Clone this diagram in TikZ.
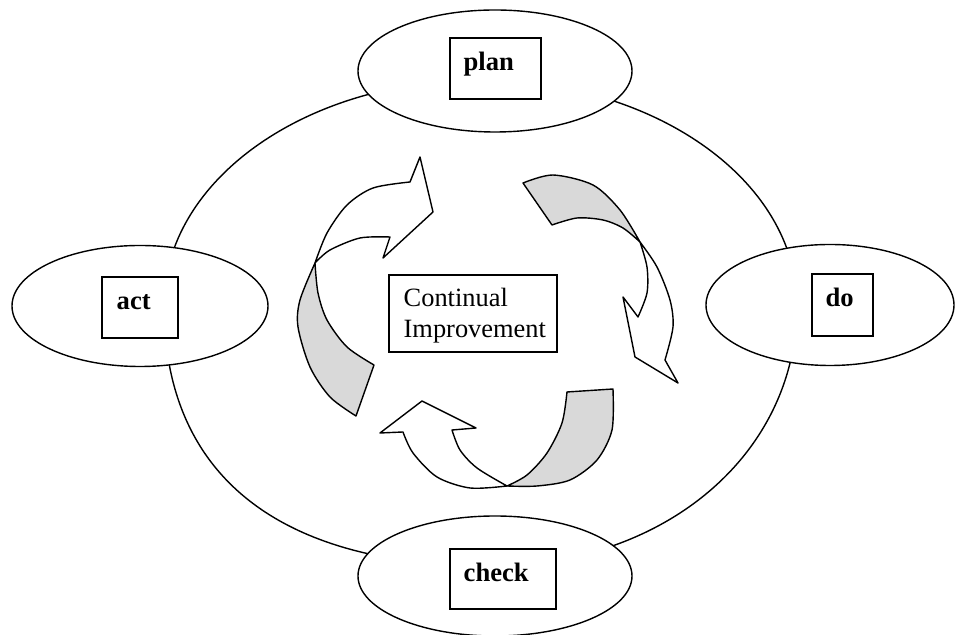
\documentclass[tikz,border=0pt]{standalone}
\usepackage{fontspec}
\setmainfont{Liberation Serif}
\usetikzlibrary{shapes.geometric}
\begin{document}
\begin{tikzpicture}[x=0.5pt,y=-0.5pt,
  line width=0.7pt,
  oval/.style={ellipse, draw, fill=white, inner sep=0pt},
  tbox/.style={draw, fill=white, inner sep=0pt},
  lbl/.style={inner sep=0pt, anchor=base west, font=\fontsize{13.3}{16}\selectfont\bfseries},
  ctext/.style={inner sep=0pt, anchor=base west, font=\fontsize{13.2}{16}\selectfont},
  band/.style={draw, line join=round},
  back/.style={band, fill=gray!30},
  front/.style={band, fill=white}]
\useasboundingbox (0,0) rectangle (955,635);

% big cycle outline
\coordinate (oL) at (164,305);
\coordinate (oT) at (480,80);
\coordinate (oR) at (797,305);
\coordinate (oB) at (490,566);
\draw (oL) .. controls (164,181) and (305,80) .. (oT)
      .. controls (655,80) and (797,181) .. (oR)
      .. controls (797,454) and (665,566) .. (oB)
      .. controls (278,566) and (164,475) .. (oL) -- cycle;

% stage ellipses
\node[oval, minimum width=137pt, minimum height=61pt] (plan) at (495,71) {};
\node[oval, minimum width=128pt, minimum height=60.5pt] (act) at (140,306) {};
\node[oval, minimum width=124pt, minimum height=60.5pt] (do) at (830,305) {};
\node[oval, minimum width=137pt, minimum height=60pt] (check) at (495,576) {};

% text boxes
\node[tbox, minimum width=45.5pt, minimum height=30.5pt] (planbox) at (495.5,68.5) {};
\node[tbox, minimum width=38pt, minimum height=30.5pt] (actbox) at (140,307.5) {};
\node[tbox, minimum width=30.5pt, minimum height=31pt] (dobox) at (842.5,305) {};
\node[tbox, minimum width=53pt, minimum height=30pt] (checkbox) at (503,579) {};
\node[tbox, minimum width=84pt, minimum height=38.5pt] (contbox) at (473,313.5) {};

\node[lbl] (plantxt) at (463,71) {plan};
\node[lbl] (acttxt) at (116,310) {act};
\node[lbl] (dotxt) at (825,307) {do};
\node[lbl] (checktxt) at (463,582) {check};
\node[ctext] (cont1) at (403,307) {Continual};
\node[ctext] (cont2) at (403,338) {Improvement};

% arrow 1 (left)
\draw[back] plot[smooth] coordinates {(315,263) (300,300) (298,327) (310,367) (330,397) (356,416)}
  -- plot[smooth] coordinates {(374,365) (347,347) (327,320) (318,293) (315,263)} -- cycle;
\draw[front] plot[smooth] coordinates {(315,263) (327,233) (347,205) (373,188) (410,182)}
  -- (420,157) -- (433,212) -- (383,258) -- (390,237)
  -- plot[smooth] coordinates {(390,237) (360,238) (330,250) (315,263)} -- cycle;

% arrow 2 (right)
\draw[back] plot[smooth] coordinates {(523,183) (553,175) (593,185) (620,210) (640,242)}
  -- plot[smooth] coordinates {(640,242) (623,228) (603,220) (577,218) (552,225)} -- cycle;
\draw[front] plot[smooth] coordinates {(640,242) (657,267) (670,300) (673,327) (665,360)}
  -- (678,383) -- (635,357) -- (623,297) -- (638,317)
  -- plot[smooth] coordinates {(638,317) (647,293) (647,267) (640,242)} -- cycle;

% arrow 3 (bottom)
\draw[back] plot[smooth] coordinates {(613,389) (612,430) (597,460) (570,480) (537,486) (507,486)}
  -- plot[smooth] coordinates {(507,486) (527,475) (547,453) (562,423) (567,392)} -- cycle;
\draw[front] plot[smooth] coordinates {(507,486) (470,488) (437,477) (413,453) (403,432)}
  -- (380,433) -- (422,401) -- (476,428) -- (452,430)
  -- plot[smooth] coordinates {(452,430) (460,450) (477,468) (507,486)} -- cycle;
\end{tikzpicture}
\end{document}
